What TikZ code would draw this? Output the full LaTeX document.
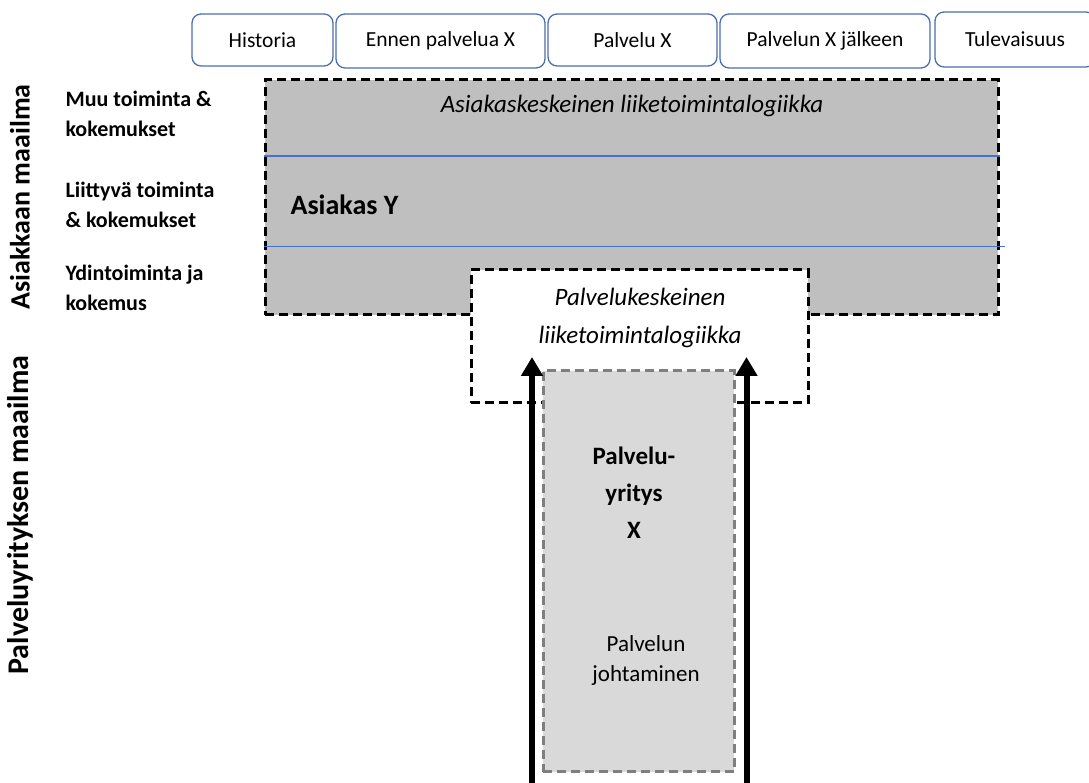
\documentclass[tikz,border=0pt]{standalone}
\usepackage{fontspec}
\setmainfont{Carlito}
\usetikzlibrary{arrows.meta}
\definecolor{tabblue}{HTML}{4A6EB0}
\definecolor{lineblue}{HTML}{4472C4}
\definecolor{bandgray}{HTML}{BFBFBF}
\definecolor{firmgray}{HTML}{D9D9D9}
\definecolor{edgegray}{HTML}{7F7F7F}
\begin{document}
\begin{tikzpicture}[x=1pt, y=1pt,
  tab/.style={draw=tabblue, line width=1.3pt, rounded corners=9pt, fill=white,
    inner sep=0pt, font=\fontsize{21.5}{25}\selectfont},
  frame/.style={draw, line width=3pt, dash pattern=on 9pt off 5pt, inner sep=0pt},
  side/.style={anchor=west, align=left, font=\bfseries\fontsize{22}{30}\selectfont},
  world/.style={rotate=90, font=\bfseries\fontsize{28}{30}\selectfont},
  flow/.style={line width=6pt, -{Triangle[length=19pt, width=21pt]}}]
\useasboundingbox (0,0) rectangle (1089,783);
%
\draw (262.5,743) node[tab, minimum width=141pt, minimum height=52pt](history){Historia};
\draw (440.5,742) node[tab, minimum width=209pt, minimum height=54pt](before){Ennen palvelua X};
\draw (632.5,743) node[tab, minimum width=169pt, minimum height=52pt](during){Palvelu X};
\draw (825,742) node[tab, minimum width=210pt, minimum height=54pt](after){Palvelun X jälkeen};
\draw (1015,743.5) node[tab, minimum width=160pt, minimum height=55pt](future){Tulevaisuus};
%
\draw (631.5,585.5) node[frame, fill=bandgray, minimum width=733pt,
  minimum height=235pt](customer){};
\draw[lineblue, line width=1.6pt] ([yshift = -77.5pt] customer.north west) --
  ([yshift = -77.5pt] customer.north east);
\draw[lineblue, line width=1.6pt] ([yshift = -168pt] customer.north west) --
  ([xshift = 5pt, yshift = -168pt] customer.north east);
\draw (632,677) node[font=\itshape\fontsize{25}{30}\selectfont](customerlogic)
  {Asiakaskeskeinen liiketoimintalogiikka};
\draw (287,578) node[anchor=west, font=\bfseries\fontsize{28}{32}\selectfont](client){Asiakas Y};
%
\draw (639.5,446.5) node[frame, fill=white, minimum width=337pt,
  minimum height=133pt](servicebox){};
\draw (640,465) node[align=center, font=\itshape\fontsize{25}{38}\selectfont](servicelogic)
  {Palvelukeskeinen\\liiketoimintalogiikka};
%
\draw (638.5,211.5) node[frame, draw=edgegray, fill=firmgray, minimum width=191pt,
  minimum height=401pt](firm){};
\draw (634,290) node[align=center, font=\bfseries\fontsize{25}{37}\selectfont](firmname)
  {Palvelu-\\yritys\\X};
\draw (646,123) node[align=center, font=\fontsize{23}{30}\selectfont](management)
  {Palvelun\\johtaminen};
%
\coordinate (leftbase) at (532,0);
\coordinate (lefttip) at (532,426);
\coordinate (rightbase) at (746.5,0);
\coordinate (righttip) at (746.5,426);
\draw[flow] (leftbase) -- (lefttip);
\draw[flow] (rightbase) -- (righttip);
%
\draw (62,669) node[side](other){Muu toiminta \&\\kokemukset};
\draw (62,578) node[side](related){Liittyvä toiminta\\\& kokemukset};
\draw (62,495) node[side](core){Ydintoiminta ja\\kokemus};
\draw (20,586) node[world](customerworld){Asiakkaan maailma};
\draw (20,268) node[world, font=\bfseries\fontsize{30}{32}\selectfont](firmworld)
  {Palveluyrityksen maailma};
\end{tikzpicture}
\end{document}
